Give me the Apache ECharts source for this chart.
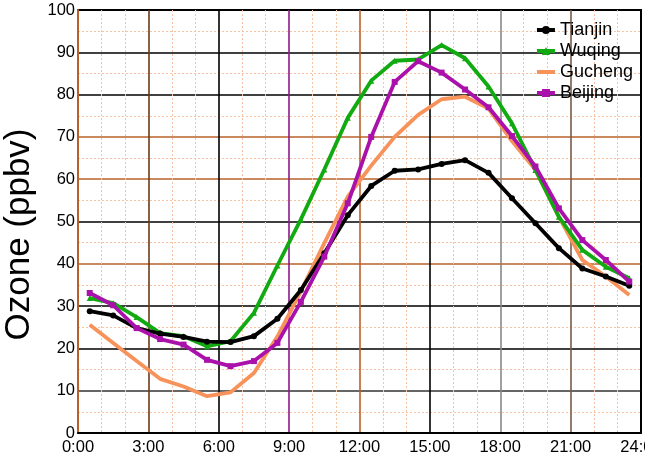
<!DOCTYPE html>
<html>
<head>
<meta charset="utf-8">
<script src="https://cdn.jsdelivr.net/npm/echarts@6/dist/echarts.min.js"></script>
<style>
html,body{margin:0;padding:0;background:#fff;}
#chart{width:645px;height:458px;}
</style>
</head>
<body>
<div id="chart"></div>
<script>
var hours = [0.5,1.5,2.5,3.5,4.5,5.5,6.5,7.5,8.5,9.5,10.5,11.5,12.5,13.5,14.5,15.5,16.5,17.5,18.5,19.5,20.5,21.5,22.5,23.5];
var tianjin = [28.8,27.8,24.8,23.5,22.7,21.6,21.5,22.9,27.0,33.8,42.5,51.5,58.4,62.0,62.3,63.6,64.5,61.5,55.5,49.6,43.7,38.9,37.0,34.8];
var wuqing  = [31.9,30.7,27.4,23.6,22.9,20.5,21.7,28.4,39.6,50.5,62.3,74.5,83.3,88.0,88.3,91.7,88.6,81.9,73.2,62.2,51.1,43.3,39.3,36.6];
var gucheng = [25.6,21.3,17.0,12.8,11.0,8.7,9.6,14.2,22.8,33.5,44.9,55.9,63.2,70.0,75.2,78.9,79.5,76.7,69.0,62.2,51.1,40.9,37.0,32.6];
var beijing = [33.1,30.2,24.8,22.2,20.9,17.3,15.8,17.0,21.3,31.0,41.7,54.3,70.0,83.0,87.9,85.2,81.2,77.0,70.2,63.0,53.1,45.6,40.9,35.8];
var xTicks = ['0:00','3:00','6:00','9:00','12:00','15:00','18:00','21:00','24:00'];
var yTicks = [0,10,20,30,40,50,60,70,80,90,100];

function pairs(arr){ return hours.map(function(h,i){ return [h, arr[i]]; }); }
var brown = '#b8602a';
var font = 'Liberation Sans, Arial, sans-serif';
var chart = echarts.init(document.getElementById('chart'), null, {renderer:'canvas'});
chart.setOption({
  animation:false,
  backgroundColor:'#fff',
  textStyle:{fontFamily:font},
  grid:{left:78,right:4,top:10,bottom:25,containLabel:false,outerBoundsMode:'none',show:true,borderColor:'#000',borderWidth:2,backgroundColor:'transparent'},
  legend:{
    orient:'vertical', right:7, top:16, itemGap:3, itemWidth:18, itemHeight:10,
    lineStyle:{width:4},
    textStyle:{fontSize:18,color:'#000',fontFamily:font},
    data:['Tianjin','Wuqing',{name:'Gucheng',itemStyle:{opacity:0}},'Beijing']
  },
  xAxis:{
    type:'value', min:0, max:24, interval:3,
    axisLine:{show:true,onZero:false,lineStyle:{color:'#000',width:2}},
    axisTick:{show:false},
    axisLabel:{fontSize:16.5,color:'#000',margin:6,formatter:function(v){return xTicks[Math.round(v/3)];}},
    splitLine:{show:true,showMinLine:true,showMaxLine:true,lineStyle:{width:1.6,color:['#000','#6a3a1a','#000','#8a1a8a',brown,'#000','#888','#7a5a4a','#000']}},
    minorTick:{show:false,splitNumber:3},
    minorSplitLine:{show:true,lineStyle:{color:'#f6c4a2',width:1,type:[2,2]}}
  },
  yAxis:{
    type:'value', min:0, max:100, interval:10,
    name:'Ozone (ppbv)', nameLocation:'middle', nameGap:35,
    nameTextStyle:{fontSize:35,color:'#000',fontFamily:font,padding:[0,26,0,0]},
    axisLine:{show:true,lineStyle:{color:brown,width:2}},
    axisTick:{show:false},
    axisLabel:{fontSize:16.5,color:'#000',margin:3,formatter:function(v){return String(v);}},
    splitLine:{show:true,showMinLine:true,showMaxLine:true,lineStyle:{width:1.6,color:['#000','#333','#000','#000',brown,'#000',brown,brown,'#000','#000','#000']}},
    minorTick:{show:false,splitNumber:2},
    minorSplitLine:{show:true,lineStyle:{color:'#f6c4a2',width:1,type:[2,2]}}
  },
  series:[
    {name:'Tianjin',type:'line',data:pairs(tianjin),color:'#000',lineStyle:{width:3.8,color:'#000'},symbol:'circle',symbolSize:6,itemStyle:{color:'#000'},z:4},
    {name:'Wuqing',type:'line',data:pairs(wuqing),color:'#11aa11',lineStyle:{width:3.8,color:'#11aa11'},symbol:'triangle',symbolSize:6,itemStyle:{color:'#11aa11'},z:3},
    {name:'Gucheng',type:'line',data:pairs(gucheng),color:'#f7935a',lineStyle:{width:3.8,color:'#f7935a'},symbol:'none',showSymbol:false,itemStyle:{color:'#f7935a'},z:2},
    {name:'Beijing',type:'line',data:pairs(beijing),color:'#aa11aa',lineStyle:{width:3.8,color:'#aa11aa'},symbol:'rect',symbolSize:6,itemStyle:{color:'#aa11aa'},z:5}
  ]
});
</script>
</body>
</html>
